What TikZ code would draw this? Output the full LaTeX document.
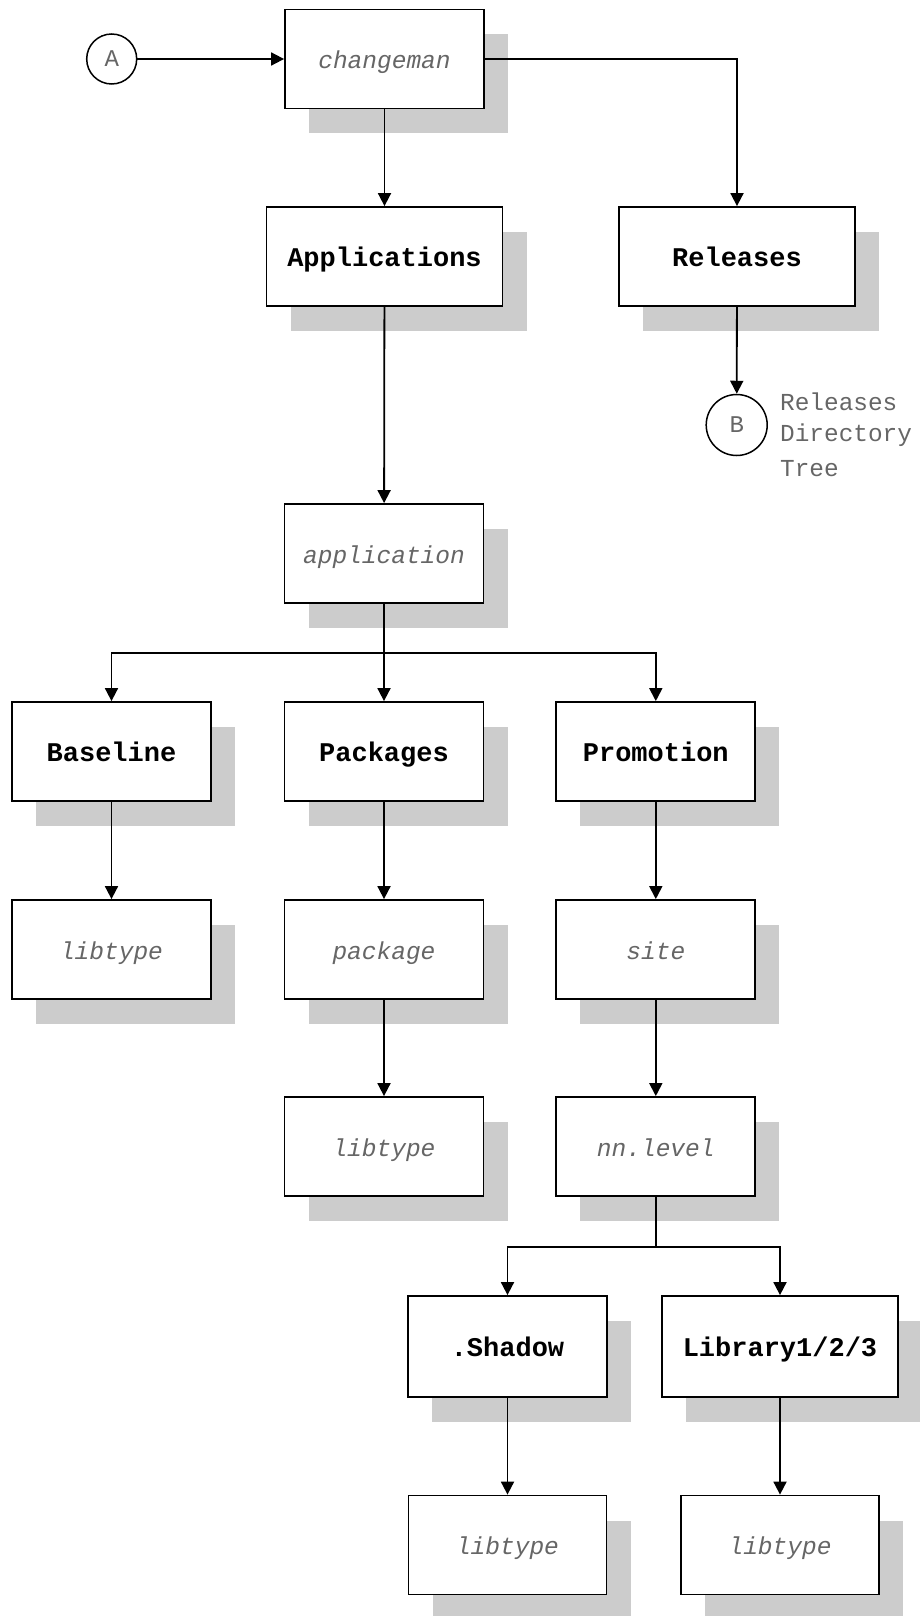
\documentclass[tikz,border=0pt]{standalone}
\usepackage{fontspec}
\newfontfamily\monof{Liberation Mono}
\usetikzlibrary{arrows.meta,shadows}
\definecolor{shgray}{HTML}{CCCCCC}
\definecolor{txtgray}{HTML}{666666}
\tikzset{
  box/.style={draw, line width=1.8pt, fill=white, minimum width=199pt, minimum height=99pt, inner sep=0pt,
    text height=19pt, text depth=0pt,
    drop shadow={shadow xshift=24pt, shadow yshift=-25pt, fill=shgray, opacity=1}},
  widebox/.style={box, minimum width=236pt},
  itl/.style={font=\monof\itshape\fontsize{24.5}{28}\selectfont, text=txtgray},
  bld/.style={font=\monof\bfseries\fontsize{27}{30}\selectfont, text=black},
  conn/.style={line width=1.8pt, -{Triangle[length=13pt,width=13pt]}},
  plain/.style={line width=1.8pt},
  circ/.style={draw, circle, line width=1.5pt, inner sep=0pt, font=\monof\fontsize{24}{28}\selectfont, text=txtgray},
  note/.style={font=\monof\fontsize{24.4}{28}\selectfont, text=txtgray, inner sep=0pt, anchor=base west}
}
\begin{document}
\begin{tikzpicture}[x=1pt,y=-1pt]
\useasboundingbox (0,0) rectangle (919,1616);
% nodes
\node[circ, minimum size=50pt] (A) at (111.7,59) {A};
\node[box, itl] (cm) at (384.5,59) {changeman};
\node[widebox, bld] (apps) at (384.5,256.5) {Applications};
\node[widebox, bld] (rel) at (737,256.5) {Releases};
\node[circ, minimum size=61pt] (B) at (736.7,425) {B};
\node[note] (n1) at (780,410) {Releases};
\node[note] (n2) at (780,441.7) {Directory};
\node[note] (n3) at (780,476.7) {Tree};
\node[box, itl] (appl) at (384,553.5) {application};
\node[box, bld] (base) at (111.5,751.5) {Baseline};
\node[box, bld] (pkgs) at (384,751.5) {Packages};
\node[box, bld] (prom) at (655.8,751.5) {Promotion};
\node[box, itl] (lt1) at (111.5,949.5) {libtype};
\node[box, itl] (pkg) at (384,949.5) {package};
\node[box, itl] (site) at (655.8,949.5) {site};
\node[box, itl] (lt2) at (384,1146.5) {libtype};
\node[box, itl] (nnl) at (655.8,1146.5) {nn.level};
\node[box, bld, minimum height=101pt] (shad) at (507.5,1346.5) {.Shadow};
\node[widebox, bld, minimum height=101pt] (lib) at (780,1346.5) {Library1/2/3};
\node[box, itl, minimum width=198pt] (lt3) at (507.5,1545) {libtype};
\node[box, itl, minimum width=198pt] (lt4) at (780,1545) {libtype};
\coordinate (br1) at (384,653);
\coordinate (br2) at (655.8,1247);
% connectors
\draw[conn] (A) -- (cm);
\draw[conn] (cm) -- (apps);
\draw[conn] (cm.east) -| (rel.north);
\draw[conn] (rel) -- (B);
\draw[conn] (apps) -- (appl);
\draw[plain] (appl.south) -- (br1);
\draw[conn] (br1) -| (base.north);
\draw[conn] (br1) -| (prom.north);
\draw[conn] (br1) -- (pkgs.north);
\draw[conn] (base) -- (lt1);
\draw[conn] (pkgs) -- (pkg);
\draw[conn] (prom) -- (site);
\draw[conn] (pkg) -- (lt2);
\draw[conn] (site) -- (nnl);
\draw[plain] (nnl.south) -- (br2);
\draw[conn] (br2) -| (shad.north);
\draw[conn] (br2) -| (lib.north);
\draw[conn] (shad) -- (lt3);
\draw[conn] (lib) -- (lt4);
\end{tikzpicture}
\end{document}
